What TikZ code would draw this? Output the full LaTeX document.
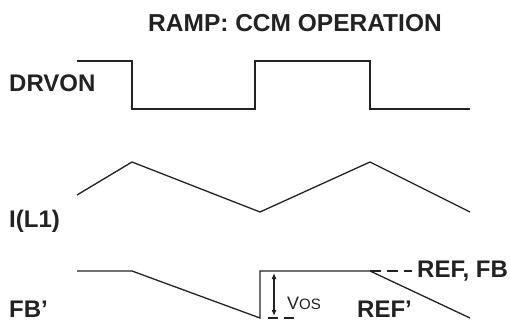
\documentclass[tikz,border=0pt]{standalone}
\usepackage{fontspec}
\setmainfont{Liberation Sans}
\usetikzlibrary{arrows.meta}
\definecolor{ink}{HTML}{222222}
\begin{document}
\begin{tikzpicture}[x=1pt,y=-1pt,
  wave/.style={draw=ink,line width=1.3pt,line join=miter},
  lbl/.style={anchor=base west,inner sep=0pt,text=ink,font=\fontsize{24}{28}\selectfont\bfseries},
  refdash/.style={draw=ink,line width=1.1pt,dash pattern=on 11pt off 6pt},
  vosarrow/.style={draw=ink,line width=1.1pt,{Latex[length=6pt,width=5pt]}-{Latex[length=6pt,width=5pt]}}]
\useasboundingbox (0,0) rectangle (510,321);
% title
\node[anchor=base,inner sep=0pt,text=ink,font=\fontsize{24.5}{28}\selectfont\bfseries] (title) at (295,32) {RAMP: CCM OPERATION};
% labels
\node[lbl] (drvon) at (9,91) {DRVON};
\node[lbl] (il1) at (9,227) {I(L1)};
\node[lbl] (fbp) at (9,317) {FB'};
\node[lbl] (reffb) at (417,277) {REF, FB};
\node[lbl] (refp) at (357,317) {REF'};
% DRVON waveform
\coordinate (d0) at (77,61);
\coordinate (d1) at (132,61);
\coordinate (d2) at (132,109);
\coordinate (d3) at (255,109);
\coordinate (d4) at (255,61);
\coordinate (d5) at (370,61);
\coordinate (d6) at (370,109);
\coordinate (d7) at (470,109);
\draw[wave] (d0) -- (d1) -- (d2) -- (d3) -- (d4) -- (d5) -- (d6) -- (d7);
% I(L1) waveform
\coordinate (i0) at (77,195);
\coordinate (i1) at (132,162);
\coordinate (i2) at (260,212);
\coordinate (i3) at (370,162);
\coordinate (i4) at (470,212);
\draw[wave] (i0) -- (i1) -- (i2) -- (i3) -- (i4);
% FB waveform
\coordinate (f0) at (77,271);
\coordinate (f1) at (132,271);
\coordinate (f2) at (260,318);
\coordinate (f3) at (260,271);
\coordinate (f4) at (370,271);
\coordinate (f5) at (470,318);
\draw[wave] (f0) -- (f1) -- (f2) -- (f3) -- (f4) -- (f5);
% REF dashed extension
\coordinate (r1) at (412,271);
\draw[refdash] (f4) -- (r1);
% VOS
\coordinate (va) at (274,273);
\coordinate (vb) at (274,316);
\draw[vosarrow] (va) -- (vb);
\coordinate (b0) at (268,318);
\coordinate (b1) at (297,318);
\draw[draw=ink,line width=1.1pt,dash pattern=on 10pt off 6pt] (b0) -- (b1);
\node[anchor=base west,inner sep=0pt,text=ink] (vos) at (287,309) {\fontsize{18}{20}\selectfont V\fontsize{15}{17}\selectfont OS};
\end{tikzpicture}
\end{document}
